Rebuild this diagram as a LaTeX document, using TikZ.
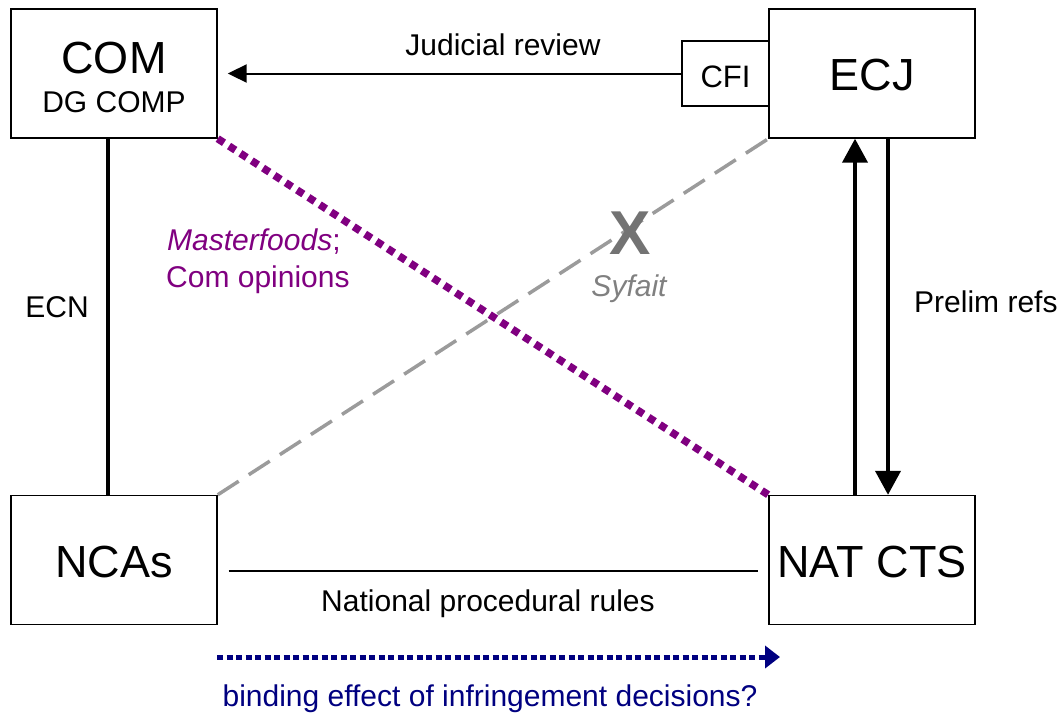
\documentclass[tikz,border=0pt]{standalone}
\usepackage{fontspec}
\setmainfont{Liberation Sans}
\usetikzlibrary{arrows.meta}
\definecolor{mypurple}{RGB}{128,0,128}
\definecolor{mynavy}{RGB}{0,0,128}
\definecolor{dashgray}{RGB}{155,155,155}
\definecolor{xgray}{RGB}{115,115,115}
\definecolor{sgray}{RGB}{128,128,128}
\begin{document}
\begin{tikzpicture}[x=1pt,y=-1pt,
  box/.style={draw, line width=1.4pt, minimum width=206pt, minimum height=129pt, inner sep=0pt},
  big/.style={font=\fontsize{45}{54}\selectfont, inner sep=0pt, anchor=base},
  lbl/.style={font=\fontsize{30}{36}\selectfont, inner sep=0pt, anchor=base},
  thickline/.style={line width=4pt},
  tri/.style={-{Triangle[length=24pt,width=25pt]}}
]
\useasboundingbox (0,0) rectangle (1064,713);
% boxes
\node[box] (com) at (114,73.5) {};
\node[box] (ecj) at (872,73.5) {};
\node[box] (ncas) at (114,560) {};
\node[box] (nat) at (872,560) {};
\node[draw, line width=1.4pt, minimum width=87pt, minimum height=65pt, inner sep=0pt] (cfi) at (725.5,73.5) {};
% box texts
\node[big] (comt) at (114,73) {COM};
\node[lbl] (dgt) at (114,112) {DG COMP};
\node[big] (ecjt) at (872,90) {ECJ};
\node[lbl, font=\fontsize{31}{36}\selectfont] (cfit) at (725.5,87) {CFI};
\node[big] (ncast) at (114,577) {NCAs};
\node[big] (natt) at (872,577) {NAT CTS};
% diagonals
\draw[mypurple, line width=7.5pt, dash pattern=on 7.5pt off 6pt] (com.south east) -- (nat.north west);
\draw[dashgray, line width=3.5pt, dash pattern=on 25pt off 12pt] (ncas.north east) -- (ecj.south west);
% ECN
\draw[thickline] ([xshift=-6pt]com.south) -- ([xshift=-6pt]ncas.north);
\node[lbl] (ecn) at (57,317) {ECN};
% judicial review
\draw[line width=2pt, -{Triangle[length=19pt,width=18pt]}, shorten >=10pt] (cfi.west) -- (com.east);
\node[lbl] (jr) at (503,55) {Judicial review};
% prelim refs
\draw[thickline, tri] ([xshift=-17pt]nat.north) -- ([xshift=-17pt]ecj.south);
\draw[thickline, tri] ([xshift=16pt]ecj.south) -- ([xshift=16pt]nat.north);
\node[lbl, anchor=base west] (pr) at (914,312) {Prelim refs};
% national procedural rules
\draw[line width=1.3pt, shorten <=11pt, shorten >=10pt] ([yshift=-11pt]ncas.east) -- ([yshift=-11pt]nat.west);
\node[lbl] (npr) at (488,611) {National procedural rules};
% masterfoods
\node[lbl, anchor=base west, text=mypurple] (mf) at (167,250) {\itshape Masterfoods\upshape;};
\node[lbl, anchor=base west, text=mypurple] (co) at (166,287) {Com opinions};
% Syfait
\node[inner sep=0pt, anchor=base, font=\fontsize{62}{70}\selectfont\bfseries, text=xgray] (x) at (630,254) {X};
\node[lbl, text=sgray] (sy) at (629,296) {\itshape Syfait};
% binding effect
\coordinate (b1) at (217,657);
\coordinate (b2) at (780,657);
\draw[mynavy, line width=5pt, dash pattern=on 6pt off 3.5pt, -{Triangle[length=15pt,width=22pt]}] (b1) -- (b2);
\node[lbl, text=mynavy] (be) at (490,706) {binding effect of infringement decisions?};
\end{tikzpicture}
\end{document}
